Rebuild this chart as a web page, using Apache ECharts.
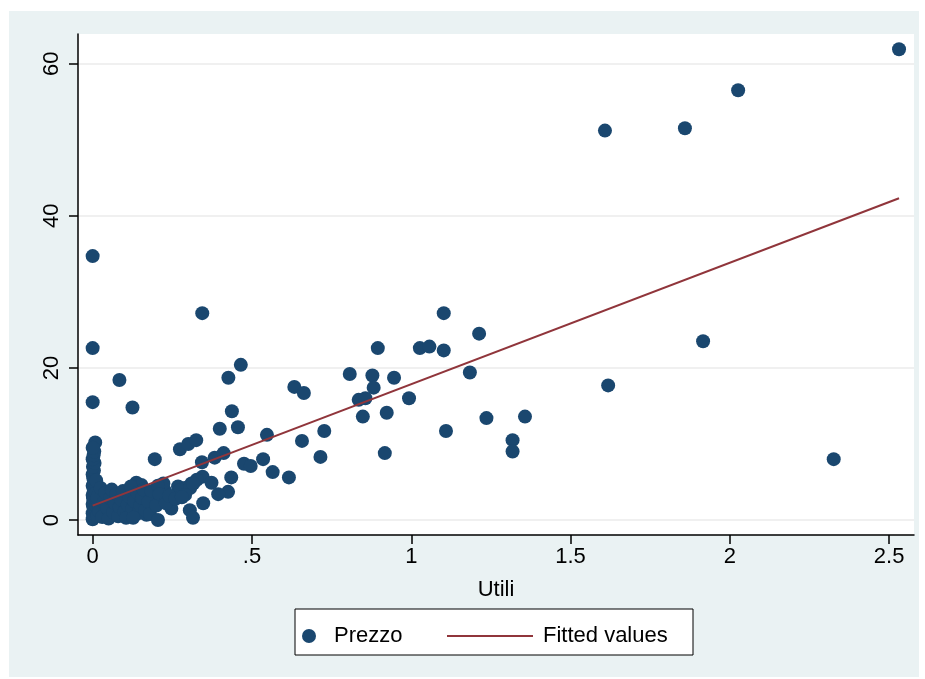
<!DOCTYPE html>
<html>
<head>
<meta charset="utf-8">
<script src="https://cdn.jsdelivr.net/npm/echarts@6/dist/echarts.min.js"></script>
<style>
  html, body { margin: 0; padding: 0; background: #fff; }
  .panel { position: absolute; left: 9px; top: 11px; width: 910px; height: 666px; background: #eaf2f3; }
  #chart { position: absolute; left: 0; top: 0; width: 925px; height: 679px; }
</style>
</head>
<body>
<div class="panel"></div>
<div id="chart"></div>
<script>
// Utili (x) e Prezzo (y)
const utili = [
  2.531, 2.026, 1.859, 1.608, 1.916, 1.618, 2.326,
  0.000, 0.000, 0.000, 0.344, 0.084, 0.125, 0.465, 0.426, 0.437, 0.399, 0.456,
  1.102, 0.895, 1.027, 1.057, 1.102, 0.807, 0.878, 0.946, 0.882, 0.633, 0.663,
  0.993, 0.835, 0.856, 0.848, 0.923, 1.109, 0.547, 0.727, 0.657, 0.917, 0.715,
  0.535, 0.475, 0.496, 0.565, 0.616, 0.435, 1.213, 1.184, 1.236, 1.357, 1.318, 1.318,
  0.195, 0.274, 0.300, 0.325, 0.383, 0.411, 0.343, 0.345, 0.327, 0.310, 0.268,
  0.373, 0.425, 0.394, 0.137, 0.153, 0.190, 0.226, 0.216, 0.268, 0.289, 0.247,
  0.305, 0.315, 0.347, 0.169, 0.222, 0.126, 0.008, 0.274, 0.306, 0.316, 0.290,
  // colonna a zero
  0.000, 0.004, 0.000, 0.006, 0.002, 0.000, 0.005, 0.001, 0.000, 0.006, 0.003,
  0.000, 0.005, 0.002, 0.000, 0.004, 0.001, 0.006, 0.000, 0.003, 0.005, 0.000,
  0.012, 0.010, 0.014, 0.011, 0.013,
  // gruppo vicino a zero
  0.015, 0.020, 0.025, 0.030, 0.035, 0.040, 0.045, 0.050, 0.055, 0.060, 0.065,
  0.070, 0.075, 0.080, 0.085, 0.090, 0.095, 0.100, 0.105, 0.110, 0.115, 0.120,
  0.125, 0.130, 0.140, 0.145, 0.150, 0.155, 0.160, 0.165, 0.175, 0.180, 0.185,
  0.200, 0.205, 0.210, 0.230, 0.240, 0.260, 0.280, 0.205, 0.127
];
const prezzo = [
  61.9, 56.5, 51.5, 51.2, 23.5, 17.7, 8.0,
  34.7, 22.6, 15.5, 27.2, 18.4, 14.8, 20.4, 18.7, 14.3, 12.0, 12.2,
  27.2, 22.6, 22.6, 22.8, 22.3, 19.2, 19.0, 18.7, 17.4, 17.5, 16.7,
  16.0, 15.8, 16.0, 13.6, 14.1, 11.7, 11.2, 11.7, 10.4, 8.8, 8.3,
  8.0, 7.4, 7.1, 6.3, 5.6, 5.6, 24.5, 19.4, 13.4, 13.6, 10.5, 9.0,
  8.0, 9.3, 10.0, 10.5, 8.2, 8.8, 7.6, 5.7, 5.3, 4.8, 4.4,
  4.9, 3.7, 3.4, 4.9, 4.6, 3.1, 3.9, 2.6, 3.7, 4.2, 1.5,
  1.3, 0.3, 2.2, 0.7, 4.8, 0.4, 10.2, 3.9, 4.2, 4.8, 3.3,
  0.1, 0.5, 0.9, 1.3, 1.7, 2.1, 2.5, 2.9, 3.3, 3.7, 4.1,
  4.5, 5.0, 5.5, 6.0, 6.5, 7.0, 7.5, 8.0, 8.5, 9.0, 9.5,
  1.8, 3.5, 0.6, 5.2, 2.7,
  3.0, 1.2, 4.2, 0.4, 2.3, 3.6, 1.6, 0.2, 2.9, 4.0, 1.0,
  2.2, 3.4, 0.5, 1.7, 2.7, 3.8, 1.1, 0.3, 2.0, 3.1, 4.4,
  1.5, 2.5, 3.6, 0.9, 1.9, 2.9, 4.0, 1.3, 2.4, 0.8, 3.8,
  1.9, 4.5, 3.4, 2.2, 3.2, 2.8, 3.0, 0.0, 0.3
];
// retta stimata: estremi
const fittedX = [0, 2.531];
const fittedY = [1.9, 42.3];

const xTicks = [0, 0.5, 1, 1.5, 2, 2.5];
const yTicks = [0, 20, 40, 60];

const font = 'Liberation Sans, Arial, Helvetica, sans-serif';

const chart = echarts.init(document.getElementById('chart'));

const option = {
  animation: false,
  backgroundColor: 'transparent',
  textStyle: { fontFamily: font, color: '#000' },
  grid: {
    left: 78, right: 11, top: 34, bottom: 144,
    show: true, backgroundColor: '#fff', borderWidth: 0,
    outerBoundsMode: 'none'
  },
  xAxis: {
    type: 'value',
    min: -0.046, max: 2.578,
    name: 'Utili',
    nameLocation: 'middle',
    nameGap: 44,
    nameTextStyle: { fontSize: 22, color: '#000', fontFamily: font },
    axisLine: { show: true, onZero: false, lineStyle: { color: '#000', width: 1.5 } },
    axisTick: { show: true, length: 9, customValues: xTicks, lineStyle: { color: '#000', width: 1.5 } },
    axisLabel: {
      customValues: xTicks, fontSize: 22, color: '#000', margin: 11, fontFamily: font,
      formatter: v => (v === 0 ? '0' : String(v).replace(/^0/, ''))
    },
    splitLine: { show: false }
  },
  yAxis: {
    type: 'value',
    min: -1.97, max: 63.9,
    axisLine: { show: true, onZero: false, lineStyle: { color: '#000', width: 1.5 } },
    axisTick: { show: true, length: 9, customValues: yTicks, lineStyle: { color: '#000', width: 1.5 } },
    axisLabel: { customValues: yTicks, rotate: 90, fontSize: 22, color: '#000', margin: 15, fontFamily: font },
    splitLine: { show: true, lineStyle: { color: '#ebebeb', width: 1.5 } }
  },
  legend: [
    {
      data: ['Prezzo'],
      left: 297, top: 620,
      itemWidth: 40, itemHeight: 14,
      icon: 'circle',
      textStyle: { fontSize: 22, color: '#000', fontFamily: font }
    },
    {
      data: ['Fitted values'],
      left: 442, top: 620,
      itemWidth: 86, itemHeight: 2,
      icon: 'rect',
      textStyle: { fontSize: 22, color: '#000', fontFamily: font, padding: [0, 0, 0, 5] }
    }
  ],
  graphic: [
    {
      type: 'rect',
      shape: { x: 295, y: 609, width: 398, height: 46 },
      style: { fill: '#fff', stroke: '#000', lineWidth: 1 },
      z: 0
    }
  ],
  series: [
    {
      name: 'Prezzo',
      type: 'scatter',
      symbolSize: 14,
      itemStyle: { color: '#1a476f', opacity: 1 },
      data: utili.map((x, i) => [x, prezzo[i]]),
      z: 2
    },
    {
      name: 'Fitted values',
      type: 'line',
      showSymbol: false,
      symbol: 'none',
      lineStyle: { color: '#90353b', width: 2 },
      itemStyle: { color: '#90353b' },
      data: fittedX.map((x, i) => [x, fittedY[i]]),
      z: 3
    }
  ]
};

chart.setOption(option);
</script>
</body>
</html>
